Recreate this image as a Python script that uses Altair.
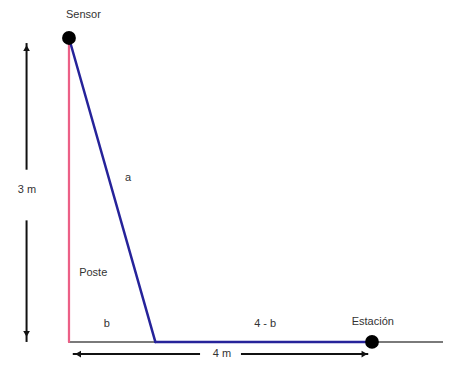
import altair as alt
import pandas as pd

# Geometry values (meters)
pole_height = 3.0
station_x = 4.0
b_value = 1.14
ground_end = 5.1

# Segments: x, y, x2, y2, kind
seg_x = [0.0, 0.0, 0.0, b_value, station_x]
seg_y = [0.0, pole_height, 0.0, 0.0, 0.0]
seg_x2 = [0.0, b_value, b_value, station_x, ground_end]
seg_y2 = [pole_height, 0.0, 0.0, 0.0, 0.0]
seg_kind = ["poste", "cable", "suelo", "cable", "suelo"]

# Dimension arrows (lines with a gap around label)
dim_x = [-0.56, -0.56, 0.05, 2.27]
dim_y = [0.0, 1.70, -0.12, -0.12]
dim_x2 = [-0.56, -0.56, 1.73, 3.95]
dim_y2 = [1.20, 2.95, -0.12, -0.12]

# Arrowheads
head_x = [-0.56, -0.56, 0.12, 3.90]
head_y = [2.90, 0.08, -0.12, -0.12]
head_shape = ["triangle-up", "triangle-down", "triangle-left", "triangle-right"]

# Points
pt_x = [0.0, station_x]
pt_y = [pole_height, 0.0]

# Labels
lab_text = ["Sensor", "a", "Poste", "b", "4 - b", "Estación", "3 m", "4 m"]
lab_x = [0.19, 0.78, 0.32, 0.50, 2.59, 4.01, -0.555, 2.02]
lab_y = [3.225, 1.62, 0.68, 0.18, 0.18, 0.20, 1.50, -0.12]

xdom = [-0.805, 4.937]
ydom = [-0.188, 3.296]
xs = alt.Scale(domain=xdom, nice=False, zero=False)
ys = alt.Scale(domain=ydom, nice=False, zero=False)

segs = pd.DataFrame({"x": seg_x, "y": seg_y, "x2": seg_x2, "y2": seg_y2, "kind": seg_kind})
dims = pd.DataFrame({"x": dim_x, "y": dim_y, "x2": dim_x2, "y2": dim_y2})
heads = pd.DataFrame({"x": head_x, "y": head_y, "shape": head_shape})
pts = pd.DataFrame({"x": pt_x, "y": pt_y})
labs = pd.DataFrame({"x": lab_x, "y": lab_y, "t": lab_text})

color_scale = alt.Scale(domain=["suelo", "poste", "cable"],
                        range=["#7a7a7a", "#ec5f86", "#26239a"])
width_scale = alt.Scale(domain=["suelo", "poste", "cable"], range=[2, 2.5, 3.2])

seg_layer = alt.Chart(segs).mark_rule(strokeCap="round").encode(
    x=alt.X("x:Q", scale=xs, axis=None),
    y=alt.Y("y:Q", scale=ys, axis=None),
    x2="x2:Q",
    y2="y2:Q",
    color=alt.Color("kind:N", scale=color_scale, legend=None),
    strokeWidth=alt.StrokeWidth("kind:N", scale=width_scale, legend=None),
    order=alt.Order("kind:N", sort="descending"),
)

dim_layer = alt.Chart(dims).mark_rule(color="#111111", strokeWidth=2).encode(
    x=alt.X("x:Q", scale=xs, axis=None),
    y=alt.Y("y:Q", scale=ys, axis=None),
    x2="x2:Q",
    y2="y2:Q",
)

head_layer = alt.Chart(heads).mark_point(filled=True, color="#111111", size=45, opacity=1).encode(
    x=alt.X("x:Q", scale=xs, axis=None),
    y=alt.Y("y:Q", scale=ys, axis=None),
    shape=alt.Shape("shape:N", scale=None, legend=None),
)

pt_layer = alt.Chart(pts).mark_circle(color="#000000", size=190, opacity=1).encode(
    x=alt.X("x:Q", scale=xs, axis=None),
    y=alt.Y("y:Q", scale=ys, axis=None),
)

lab_layer = alt.Chart(labs).mark_text(font="Liberation Sans", fontSize=11, color="#333333").encode(
    x=alt.X("x:Q", scale=xs, axis=None),
    y=alt.Y("y:Q", scale=ys, axis=None),
    text="t:N",
)

chart = alt.layer(seg_layer, dim_layer, head_layer, pt_layer, lab_layer).properties(
    width=435, height=353, padding=0,
    autosize=alt.AutoSizeParams(type="none"),
    background="white",
).configure_view(stroke=None)

chart.save("out.html", embed_options={"renderer": "svg", "actions": False})
